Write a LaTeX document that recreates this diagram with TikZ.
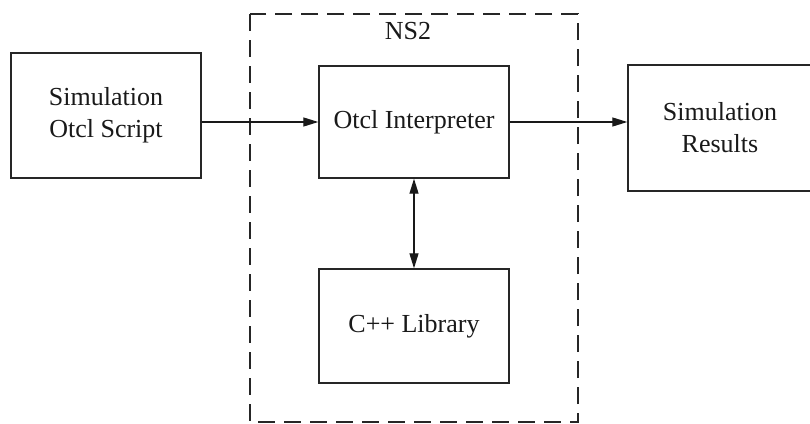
\documentclass[tikz,border=0pt]{standalone}
\usepackage{fontspec}
\setmainfont{Liberation Serif}
\usetikzlibrary{arrows.meta}
\begin{document}
\begin{tikzpicture}[x=1pt,y=-1pt,
  block/.style={draw=black!85, line width=1.4pt, rectangle, align=center,
    inner sep=0pt, font=\fontsize{26}{32}\selectfont, text=black!90},
  link/.style={draw=black!90, line width=1.3pt,
    -{Triangle[length=15pt,width=9pt]}},
  both/.style={draw=black!90, line width=1.3pt,
    {Triangle[length=15pt,width=9pt]}-{Triangle[length=15pt,width=9pt]}},
  group/.style={draw=black!85, line width=2.4pt, dash pattern=on 17pt off 9pt}
]
\useasboundingbox (0,0) rectangle (810,423);
\fill[white] (0,0) rectangle (810,423);

% NS2 container
\draw[group] (250,14) rectangle (578,422);
\node[font=\fontsize{26}{32}\selectfont, text=black!90] (ns) at (408,31) {NS2};

% blocks
\node[block, minimum width=190pt, minimum height=125pt] (script) at (106,115.5) {Simulation\\Otcl Script};
\node[block, minimum width=190pt, minimum height=112pt] (otcl) at (414,122) {Otcl Interpreter};
\node[block, minimum width=190pt, minimum height=114pt] (lib) at (414,326) {C++ Library};
\node[block, minimum width=184pt, minimum height=126pt] (res) at (720,128) {Simulation\\Results};

% connectors
\draw[link] (script.east |- otcl.west) -- (otcl.west);
\draw[link] (otcl.east) -- (otcl.east -| res.west);
\draw[both] (otcl.south) -- (lib.north);
\end{tikzpicture}
\end{document}
